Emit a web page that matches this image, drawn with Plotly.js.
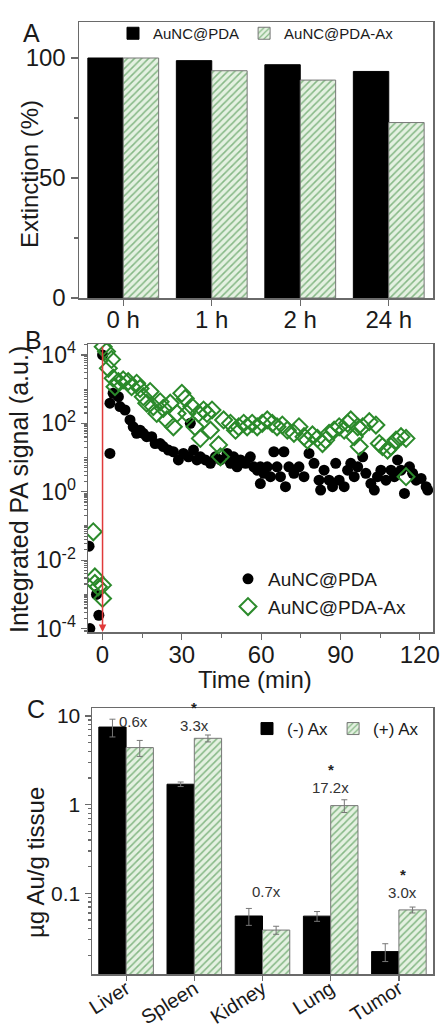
<!DOCTYPE html>
<html><head><meta charset="utf-8">
<script src="https://cdn.plot.ly/plotly-3.0.1.min.js"></script>
<style>html,body{margin:0;padding:0;background:#fff}#chart{width:440px;height:1027px}</style>
</head><body><div id="chart"></div>
<script>
// ---- Panel A data ----
const timepoints = ['0 h', '1 h', '2 h', '24 h'];
const extPDA = [100, 98.9, 97.2, 94.4];
const extPDAAx = [100, 94.7, 90.8, 73.1];

// ---- Panel B data (time in min, log10 of integrated PA signal) ----
const tPDA = [-5.1, -2.3, -1.4, -4.8, 0, 2.8, 2.8, 4, 6, 6.6, 8.5, 10.4, 11.6, 12.9, 14.2, 15.4, 16.7, 18.6, 19.9, 21.8, 23, 24.9, 26.8, 28.7, 30.6, 32.5, 33.2, 34.4, 35.7, 37, 38.9, 40.8, 42.7, 44.6, 47.1, 48.4, 49.6, 50.9, 52.2, 54.1, 55.9, 57.2, 58.5, 59.7, 61, 59.7, 62.3, 63.5, 64.8, 66, 67.3, 68.6, 69.2, 70.5, 72.4, 74.3, 76.2, 78.1, 80, 81.9, 82.5, 83.8, 85.7, 87, 88.2, 89.5, 91.4, 92.7, 93.9, 95.2, 96.5, 98.4, 99.6, 101.5, 102.8, 104, 105.3, 107.2, 109.1, 110.4, 111.6, 112.9, 114.2, 116.1, 117.3, 118.6, 120.5, 122.4, 123];
const logPDA = [-1.59, -3.0, -3.61, -4.0, 4.0, 1.12, 2.59, 2.88, 2.78, 2.49, 2.39, 2.10, 1.9, 1.71, 1.8, 1.71, 1.61, 1.61, 1.41, 1.41, 1.32, 1.22, 1.17, 0.93, 1.12, 1.02, 2.0, 1.22, 0.93, 1.02, 0.93, 0.83, 1.02, 0.93, 1.12, 0.83, 1.02, 0.73, 0.93, 0.83, 1.02, 0.73, 0.63, 0.73, 0.54, 0.24, 0.73, 0.44, 1.17, 0.73, 0.44, 1.17, 0.15, 0.73, 0.54, 0.73, 0.44, 1.12, 0.83, 0.34, 0.05, 0.63, 0.34, 0.15, 0.83, 0.34, 0.15, 0.63, 0.83, 0.44, 0.73, 1.02, 0.54, 0.24, 0.05, 0.44, 0.63, 0.34, 0.63, 0.44, 0.93, 0.63, -0.05, 0.73, 0.54, 0.34, 0.39, 0.15, 0.05];
const tPDAAx = [-3.5, -2.9, -1.6, -2.9, 0, 0, 0.25, 1.5, 3.4, 2.2, 4, 6, 7.8, 4.7, 9.7, 11, 12.9, 14.2, 15.4, 16.7, 18, 19.2, 20.5, 21.8, 23, 24.3, 25.6, 26.8, 28.2, 30, 31.3, 31.9, 33.8, 35, 36.3, 37, 38.2, 39.5, 41.4, 40.8, 43.9, 44.6, 45.8, 48.4, 50.3, 51.5, 53.4, 54.7, 56.6, 58.5, 60.4, 62.3, 64.2, 66, 68, 69.9, 72.4, 74.3, 76.2, 77.5, 79.4, 81.3, 83.2, 84.4, 85.7, 87.6, 89.5, 91.4, 92.7, 93.9, 95.2, 96.5, 97.1, 98.4, 100.9, 103.4, 104.7, 105.9, 107.8, 109.1, 111, 112.9, 114.8, 114.8];
const logPDAAx = [-1.17, -2.49, -2.78, -2.68, -2.73, -3.12, 4.24, 4.1, 3.87, 3.61, 3.32, 3.22, 3.27, 3.07, 3.22, 3.07, 3.17, 3.02, 2.78, 2.59, 2.93, 2.49, 2.29, 2.63, 2.44, 2.1, 2.59, 1.9, 2.29, 2.88, 2.73, 2.29, 2.49, 1.9, 2.29, 1.56, 2.39, 2.29, 2.39, 1.8, 1.37, 1.02, 2.1, 2.0, 1.8, 1.9, 2.0, 1.9, 2.0, 1.9, 2.0, 2.1, 2.0, 1.9, 1.95, 1.8, 1.71, 1.9, 1.61, 1.51, 1.66, 1.56, 1.41, 1.51, 1.71, 1.8, 1.9, 1.8, 2.0, 2.1, 1.61, 1.9, 1.32, 1.9, 2.05, 1.95, 1.41, 1.32, 1.22, 1.32, 1.51, 1.61, 1.56, 0.44];

// ---- Panel C data ----
const organs = ['Liver', 'Spleen', 'Kidney', 'Lung', 'Tumor'];
const auMinus = [7.5, 1.7, 0.0555, 0.0553, 0.022];
const auMinusErr = [1.7, 0.1, 0.012, 0.007, 0.005];
const auPlus = [4.4, 5.6, 0.0385, 0.975, 0.065];
const auPlusErr = [0.9, 0.5, 0.004, 0.16, 0.005];
const foldLabels = ['0.6x', '3.3x', '0.7x', '17.2x', '3.0x'];
const significant = [false, true, false, true, true];

// ---- styling ----
const FONT = 'Liberation Sans, Arial, sans-serif';
const TXT = '#1a1a1a';
const FRAME = '#6a6a6a';
const W = 440, H = 1027;
const greenPattern = {shape: '/', fgcolor: '#86b886', bgcolor: '#e4f1e1', size: 5, solidity: 0.3};
const px = v => v / W, py = v => 1 - v / H;

const powLabel = e => '10<sup>' + e + '</sup>';
const logTickVals = [-4, -2, 0, 2, 4].map(e => Math.pow(10, e));
const logTickText = [-4, -2, 0, 2, 4].map(powLabel);
const minorLogB = [];
for (let d = -5; d <= 4; d++) for (let k = 1; k <= 9; k++) minorLogB.push(k * Math.pow(10, d));
const minorLogC = [];
for (let d = -2; d <= 1; d++) for (let k = 2; k <= 9; k++) minorLogC.push(k * Math.pow(10, d));

const axisBase = {showline: true, linecolor: FRAME, linewidth: 1.5, mirror: true, showgrid: false, zeroline: false,
  ticks: 'outside', tickcolor: FRAME, tickwidth: 1.2, ticklen: 6, tickfont: {family: FONT, color: TXT}};

const traces = [
  {type: 'bar', x: timepoints, y: extPDA, name: 'AuNC@PDA', xaxis: 'x', yaxis: 'y', legend: 'legend',
   marker: {color: '#000', line: {color: '#000', width: 1}}},
  {type: 'bar', x: timepoints, y: extPDAAx, name: 'AuNC@PDA-Ax', xaxis: 'x', yaxis: 'y', legend: 'legend',
   marker: {color: '#e4f1e1', pattern: greenPattern, line: {color: '#777', width: 1}}},
  {type: 'scatter', mode: 'markers', x: tPDA, y: logPDA.map(v => Math.pow(10, v)), name: 'AuNC@PDA',
   xaxis: 'x2', yaxis: 'y2', legend: 'legend2', cliponaxis: true,
   marker: {symbol: 'circle', size: 11, color: '#000'}},
  {type: 'scatter', mode: 'markers', x: tPDAAx, y: logPDAAx.map(v => Math.pow(10, v)), name: 'AuNC@PDA-Ax',
   xaxis: 'x2', yaxis: 'y2', legend: 'legend2', cliponaxis: true,
   marker: {symbol: 'diamond-open', size: 13, color: '#2b8a2b', line: {width: 2, color: '#2b8a2b'}}},
  {type: 'bar', x: organs, y: auMinus, name: '(-) Ax', xaxis: 'x3', yaxis: 'y3', legend: 'legend3',
   error_y: {type: 'data', array: auMinusErr, color: '#777', thickness: 1, width: 3},
   marker: {color: '#000', line: {color: '#000', width: 1}}},
  {type: 'bar', x: organs, y: auPlus, name: '(+) Ax', xaxis: 'x3', yaxis: 'y3', legend: 'legend3',
   error_y: {type: 'data', array: auPlusErr, color: '#777', thickness: 1, width: 3},
   marker: {color: '#e4f1e1', pattern: greenPattern, line: {color: '#777', width: 1}}}
];

// fold-change labels and significance stars, anchored at top of bar + error
const labelShift = [-2, 10, 17, 12, 15];
const labelXShift = [7, 0, 4, 0, 4];
const starGap = 18;
const annotations = [];
organs.forEach((o, i) => {
  const top = Math.log10(Math.max(auMinus[i] + auMinusErr[i], auPlus[i] + auPlusErr[i]));
  annotations.push({xref: 'x3', yref: 'y3', x: o, y: top, text: foldLabels[i], showarrow: false, borderpad: 0,
    yanchor: 'middle', yshift: labelShift[i], xshift: labelXShift[i], font: {family: FONT, size: 15, color: '#333'}});
  if (significant[i]) annotations.push({xref: 'x3', yref: 'y3', x: o, y: top, text: '<b>*</b>', showarrow: false, borderpad: 0,
    yanchor: 'middle', yshift: labelShift[i] + starGap, xshift: labelXShift[i], font: {family: FONT, size: 15, color: '#222'}});
});
// panel letters
[['A', 22, 18], ['B', 24, 325], ['C', 26, 724]].forEach(([t, x, y]) => annotations.push({
  xref: 'paper', yref: 'paper', x: px(x), y: py(y), text: t, showarrow: false, borderpad: 0,
  font: {family: FONT, size: 25, color: TXT}}));
// axis titles
[['Extinction (%)', 29, 174, -90, 24], ['Integrated PA signal (a.u.)', 19, 490, -90, 25],
 ['µg Au/g tissue', 35, 863, -90, 24], ['Time (min)', 255, 679, 0, 24]].forEach(([t, x, y, a, s]) =>
  annotations.push({xref: 'paper', yref: 'paper', x: px(x), y: py(y), text: t, textangle: a, showarrow: false,
    xanchor: 'center', yanchor: 'middle', borderpad: 0, font: {family: FONT, size: s, color: TXT}}));
// injection marker at t = 0
annotations.push({xref: 'x2', yref: 'y2', x: 0, y: -4.1, text: '', showarrow: true, arrowhead: 2, arrowsize: 1,
  arrowwidth: 1.5, arrowcolor: '#e03a3a', axref: 'pixel', ayref: 'pixel', ax: 0, ay: -287});

const layout = {
  width: W, height: H, margin: {l: 0, r: 0, t: 0, b: 0},
  paper_bgcolor: '#fff', plot_bgcolor: '#fff',
  font: {family: FONT, color: TXT},
  barmode: 'group', bargap: 0.2, bargroupgap: 0,
  showlegend: true,
  xaxis: Object.assign({}, axisBase, {domain: [px(79), px(433)], anchor: 'y', type: 'category',
    ticklabelstandoff: -6, tickfont: {family: FONT, size: 24, color: TXT}}),
  yaxis: Object.assign({}, axisBase, {domain: [py(298), py(22)], anchor: 'x', range: [0, 115],
    tickvals: [0, 50, 100], ticklen: 7, tickfont: {family: FONT, size: 24, color: TXT},
    minor: {tickvals: [25, 75], ticks: 'outside', ticklen: 4, tickcolor: FRAME}}),
  xaxis2: Object.assign({}, axisBase, {domain: [px(88), px(433)], anchor: 'y2', range: [-5.5, 125],
    tickvals: [0, 30, 60, 90, 120], ticklabelstandoff: -5, tickfont: {family: FONT, size: 24, color: TXT},
    minor: {tickvals: [15, 45, 75, 105], ticks: 'outside', ticklen: 4, tickcolor: FRAME}}),
  yaxis2: Object.assign({}, axisBase, {domain: [py(632), py(344)], anchor: 'x2', type: 'log', range: [-4.1, 4.32],
    tickvals: logTickVals, ticktext: logTickText, tickfont: {family: FONT, size: 23, color: TXT},
    minor: {tickvals: minorLogB, ticks: 'outside', ticklen: 3, tickcolor: FRAME}}),
  xaxis3: Object.assign({}, axisBase, {domain: [px(92), px(433)], anchor: 'y3', type: 'category',
    tickangle: -32, ticklen: 5, ticklabelstandoff: -11, tickfont: {family: FONT, size: 20, color: TXT}}),
  yaxis3: Object.assign({}, axisBase, {domain: [py(974), py(708)], anchor: 'x3', type: 'log', range: [-1.91, 1.09],
    tickvals: [0.1, 1, 10], ticktext: ['0.1', '1', '10'], tickfont: {family: FONT, size: 21, color: TXT},
    minor: {tickvals: minorLogC, ticks: 'outside', ticklen: 3, tickcolor: FRAME}}),
  legend: {orientation: 'h', x: px(113), y: py(17), xanchor: 'left', yanchor: 'top', bgcolor: 'rgba(0,0,0,0)',
    font: {family: FONT, size: 15, color: TXT}, itemwidth: 30, tracegroupgap: 0},
  legend2: {orientation: 'v', x: px(228), y: py(560), xanchor: 'left', yanchor: 'top', bgcolor: 'rgba(0,0,0,0)',
    font: {family: FONT, size: 19, color: TXT}, itemwidth: 30},
  legend3: {orientation: 'h', x: px(247), y: py(711), xanchor: 'left', yanchor: 'top', bgcolor: 'rgba(0,0,0,0)',
    font: {family: FONT, size: 17, color: TXT}, itemwidth: 30},
  annotations: annotations
};

Plotly.newPlot('chart', traces, layout, {staticPlot: true, displayModeBar: false});
</script></body></html>
